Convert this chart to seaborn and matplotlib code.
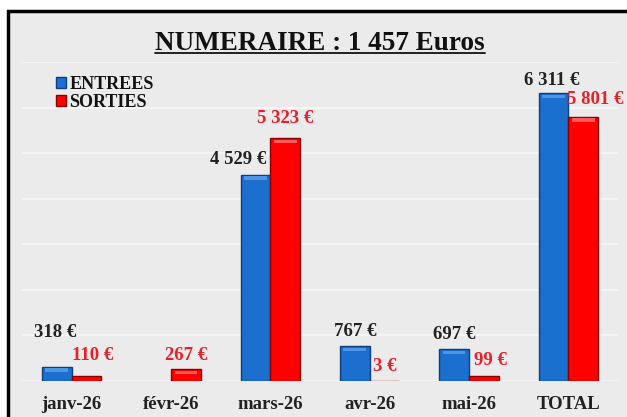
import matplotlib
matplotlib.use("Agg")
import matplotlib.pyplot as plt
import seaborn as sns
import pandas as pd
from matplotlib.patches import Rectangle, Patch
from matplotlib.lines import Line2D
from matplotlib.font_manager import FontProperties

# ---- data ----
categories = ["janv-26", "févr-26", "mars-26", "avr-26", "mai-26", "TOTAL"]
entrees = [318, 0, 4529, 767, 697, 6311]
sorties = [110, 267, 5323, 3, 99, 5801]
series_names = ["ENTREES", "SORTIES"]
title_text = "NUMERAIRE : 1 457 Euros"

# label offsets in pixels (dx, dy up) relative to bar top centre
off_entrees = [(-2, 34), None, (-17, 15), (0, 15), (0, 15), (-2, 13)]
off_sorties = [(6, 20), (0, 13), (0, 20), (0, 14), (7, 16), (12, 17)]

BLUE = "#1a6fcf"
RED = "#ff0000"
LABEL_RED = "#e8202a"
FONT = "Liberation Serif"

df = pd.DataFrame({
    "mois": categories * 2,
    "montant": entrees + sorties,
    "type": [series_names[0]] * len(categories) + [series_names[1]] * len(categories),
})

sns.set_style("white")
plt.rcParams["font.family"] = [FONT, "DejaVu Serif"]
plt.rcParams["font.weight"] = "bold"

fig = plt.figure(figsize=(6.27, 4.17), dpi=100)
fig.patch.set_facecolor("white")

# outer frame
W, H = 627.0, 417.0
frame = Rectangle((8 / W, -0.05), 1.2, (H - 11) / H + 0.05, transform=fig.transFigure,
                  facecolor="#ebebeb", edgecolor="black", linewidth=2.5, zorder=-10)
fig.add_artist(frame)

ax = fig.add_axes([22 / W, 36 / H, 596 / W, 319 / H])
ax.set_facecolor("none")
ax.set_zorder(1)

sns.barplot(data=df, x="mois", y="montant", hue="type", palette=[BLUE, RED],
            width=0.6, gap=0, saturation=1, ax=ax, legend=False, errorbar=None,
            zorder=3)

edge_cols = ["#0d3f80", "#8a0000"]
light_cols = ["#4f95e6", "#ff5a5a"]
for ci, cont in enumerate(ax.containers):
    for p in cont.patches:
        h = p.get_height()
        p.set_edgecolor(edge_cols[ci])
        p.set_linewidth(1.0 if h > 0 else 0)
        if h > 150:
            ax.add_patch(Rectangle((p.get_x() + p.get_width() * 0.12, h - 110),
                                   p.get_width() * 0.76, 70,
                                   facecolor=light_cols[ci], edgecolor="none", zorder=4))

ax.set_ylim(0, 7000)
ax.set_xlim(-0.5, len(categories) - 0.5)
ax.set_yticks(range(0, 7001, 1000))
ax.set_yticklabels([])
ax.yaxis.grid(True, color="#f8f8f8", linewidth=1.2, zorder=1)
ax.set_axisbelow(True)
for s in ax.spines.values():
    s.set_visible(False)
ax.set_xlabel("")
ax.set_ylabel("")
ax.tick_params(axis="both", length=0)
ax.tick_params(axis="x", pad=11, labelsize=13.5)
for t in ax.get_xticklabels():
    t.set_fontweight("bold")
    t.set_color("#222222")

# value labels
def fmt(v):
    return f"{v:,}".replace(",", " ") + " €"

for ci, (cont, vals, offs, col) in enumerate(zip(ax.containers, [entrees, sorties],
                                                  [off_entrees, off_sorties],
                                                  ["#222222", LABEL_RED])):
    for p, v, off in zip(cont.patches, vals, offs):
        if off is None:
            continue
        ax.annotate(fmt(v), (p.get_x() + p.get_width() / 2, p.get_height()),
                    xytext=off, textcoords="offset pixels", ha="center", va="center",
                    fontsize=13.5, fontweight="bold", color=col, zorder=6,
                    annotation_clip=False)

# legend
handles = [Patch(facecolor=BLUE, edgecolor=edge_cols[0]), Patch(facecolor=RED, edgecolor=edge_cols[1])]
leg = ax.legend(handles, series_names, loc="upper left", bbox_to_anchor=(56 / W, (H - 76) / H),
                bbox_transform=fig.transFigure, frameon=False, handlelength=0.55,
                handleheight=0.55, handletextpad=0.2, labelspacing=0.05, borderpad=0,
                borderaxespad=0, prop=FontProperties(family=FONT, weight="bold", size=13))
for t in leg.get_texts():
    t.set_color("#111111")

# title with underline
title = fig.text(320 / W, (H - 50) / H, title_text, ha="center", va="baseline",
                 fontsize=19.5, fontweight="bold", color="#111111")
fig.canvas.draw()
r = fig.canvas.get_renderer()
bb = title.get_window_extent(r)
y_ul = (H - 53) / H
fig.add_artist(Line2D([bb.x0 / W, bb.x1 / W], [y_ul, y_ul], transform=fig.transFigure,
                      color="#111111", linewidth=1.3))

fig.savefig("out.png", dpi=100)
